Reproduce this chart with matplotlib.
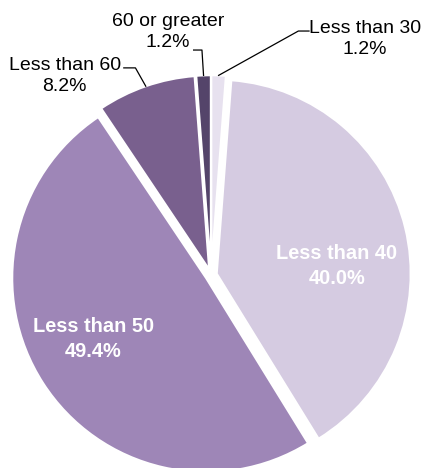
import numpy as np
import matplotlib
matplotlib.use('Agg')
import matplotlib.pyplot as plt

plt.rcParams['font.family'] = ['Liberation Sans', 'DejaVu Sans']

kategorije = ['Less than 30', 'Less than 40', 'Less than 50', 'Less than 60', '60 or greater']
deleži = [1.2, 40.0, 49.4, 8.2, 1.2]
barve = ['#E7E1EF', '#D5CBE1', '#9E86B7', '#79608E', '#54446A']
razmik = 0.03

fig = plt.figure(figsize=(4.27, 4.68), dpi=100)
ax = fig.add_axes([0, 0, 1, 1])

klini, _ = ax.pie(deleži, colors=barve, startangle=90, counterclock=False,
                  explode=[razmik] * len(deleži),
                  wedgeprops={'edgecolor': 'white', 'linewidth': 1.5})

ax.set_xlim(-1.088, 1.113)
ax.set_ylim(-0.995, 1.418)
ax.set_aspect('equal')
ax.axis('off')


def tocka(klin, r):
    # točka na sredini klina na razdalji r od njegovega središča
    kot = np.deg2rad((klin.theta1 + klin.theta2) / 2)
    return (klin.center[0] + r * np.cos(kot), klin.center[1] + r * np.sin(kot))


# notranje oznake (beli, krepki napisi)
notranje = {1: (0.649, 0.047), 2: (-0.607, -0.33)}
for i, (x, y) in notranje.items():
    ax.text(x, y, f'{kategorije[i]}\n{deleži[i]:.1f}%', ha='center', va='center',
            color='white', fontsize=14.4, fontweight='bold', linespacing=1.45)

# zunanje oznake s povezovalnimi črtami
zunanje = {
    0: {'besedilo': (0.794, 1.217), 'zacetek': (0.505, 1.258), 'kolen': (0.45, 1.258)},
    4: {'besedilo': (-0.222, 1.255), 'zacetek': (-0.09, 1.160), 'kolen': (-0.047, 1.160)},
    3: {'besedilo': (-0.755, 1.028), 'zacetek': (-0.45, 1.068), 'kolen': (-0.39, 1.068)},
}
for i, polozaj in zunanje.items():
    bx, by = polozaj['besedilo']
    ax.text(bx, by, f'{kategorije[i]}\n{deleži[i]:.1f}%', ha='center', va='center',
            color='black', fontsize=14, linespacing=1.3)
    kx, ky = tocka(klini[i], 1.0)
    ax.plot([polozaj['zacetek'][0], polozaj['kolen'][0], kx],
            [polozaj['zacetek'][1], polozaj['kolen'][1], ky],
            color='black', linewidth=0.9)

fig.savefig('out.png', dpi=100)
